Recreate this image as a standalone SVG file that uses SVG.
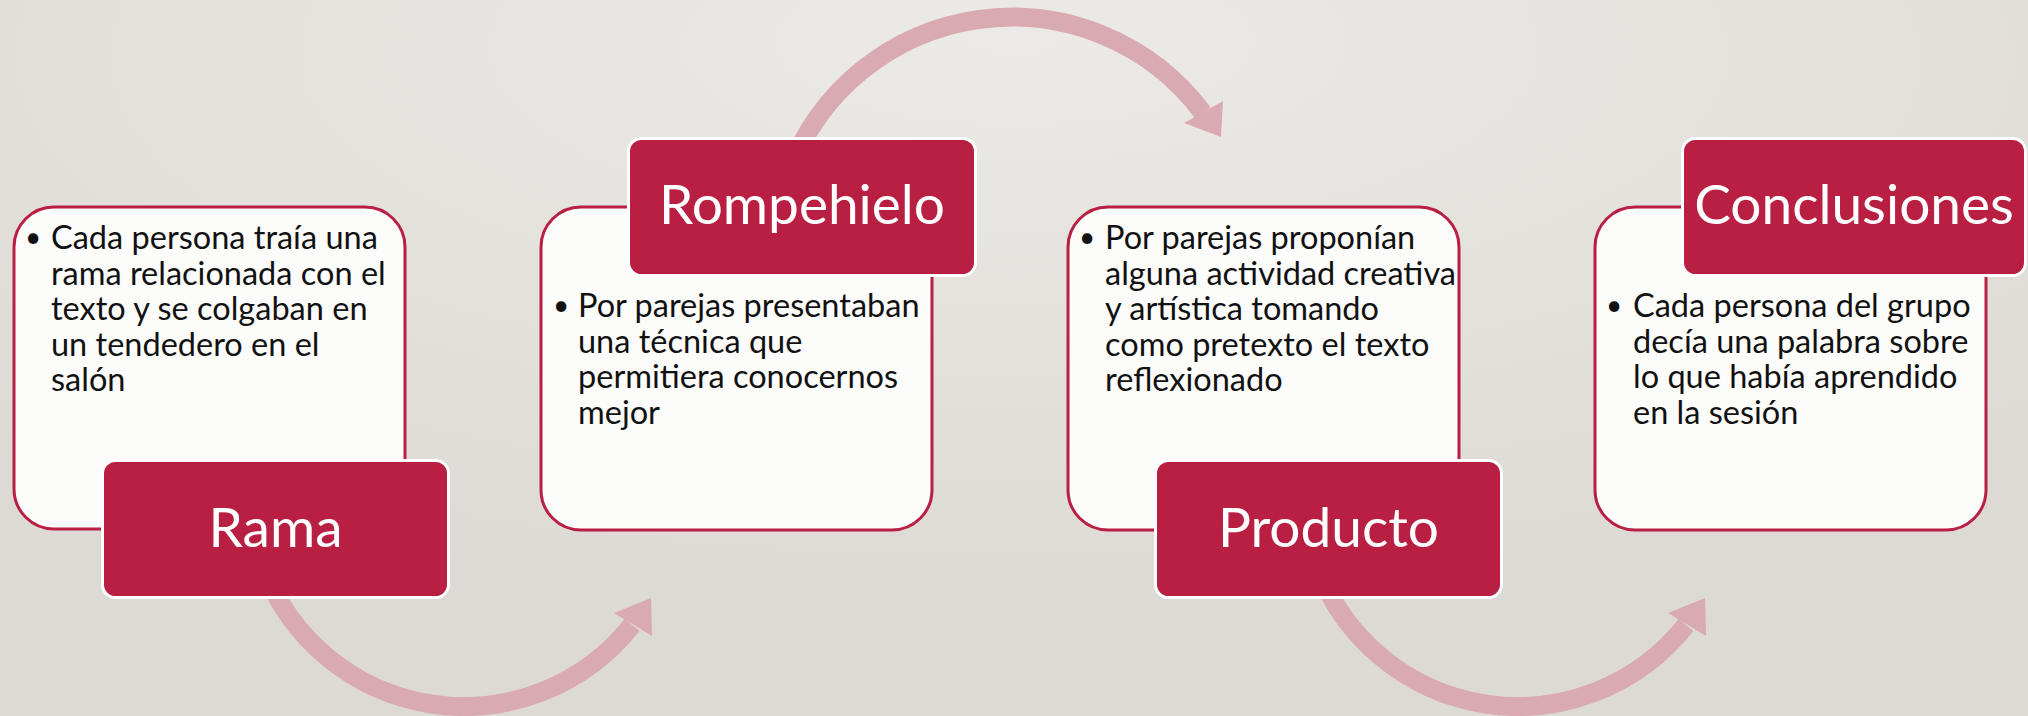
<svg xmlns="http://www.w3.org/2000/svg" width="2028" height="716" viewBox="0 0 2028 716">
  <defs>
    <radialGradient id="bg" cx="0.5" cy="0.1" r="0.75" fx="0.5" fy="0.05">
      <stop offset="0" stop-color="#eceae6"/>
      <stop offset="1" stop-color="#dddad5"/>
    </radialGradient>
    <style>
      .card { fill: #fcfcfb; stroke: #b91e43; stroke-width: 3; }
      .tag { fill: #b91e43; stroke: #ffffff; stroke-width: 3; }
      .tagtxt { font-family: Lato, "Liberation Sans", sans-serif; font-size: 55px; fill: #ffffff; text-anchor: middle; }
      .body { font-family: Lato, "Liberation Sans", sans-serif; font-size: 32.5px; fill: #111111; }
      .bul { font-family: Lato, "Liberation Sans", sans-serif; font-size: 28px; fill: #111111; }
      .arc { fill: none; stroke: #d9aab1; stroke-width: 19; }
      .head { fill: #d9aab1; }
    </style>
  </defs>
  <rect x="0" y="0" width="2028" height="716" fill="url(#bg)"/>

  <g id="connectors">
    <g id="arrow-rama-rompehielo">
      <path class="arc" d="M 262.9 565.7 A 214 214 0 0 0 632 625"/>
      <polygon class="head" points="651,598 614,613 652,636"/>
    </g>
    <g id="arrow-rompehielo-producto">
      <path class="arc" d="M 788.4 173.6 A 238 238 0 0 1 1203 113"/>
      <polygon class="head" points="1221,137 1184,123 1223,101"/>
    </g>
    <g id="arrow-producto-conclusiones">
      <path class="arc" d="M 1316.9 565.7 A 214 214 0 0 0 1686 625"/>
      <polygon class="head" points="1705,598 1668,613 1706,636"/>
    </g>
  </g>

  <g id="node-rama">
    <rect class="card" x="14" y="207" width="391" height="322" rx="40"/>
    <text class="bul" x="25" y="247">•</text>
    <text class="body" x="51" y="249">Cada persona traía una</text>
    <text class="body" x="51" y="284.6">rama relacionada con el</text>
    <text class="body" x="51" y="320.2">texto y se colgaban en</text>
    <text class="body" x="51" y="355.8">un tendedero en el</text>
    <text class="body" x="51" y="391.4">salón</text>
    <rect class="tag" x="102.5" y="460.5" width="346" height="137" rx="13"/>
    <text class="tagtxt" x="275.5" y="547">Rama</text>
  </g>

  <g id="node-rompehielo">
    <rect class="card" x="541" y="207" width="391" height="323" rx="40"/>
    <text class="bul" x="553" y="315">•</text>
    <text class="body" x="578" y="317">Por parejas presentaban</text>
    <text class="body" x="578" y="352.6">una técnica que</text>
    <text class="body" x="578" y="388.2">permitiera conocernos</text>
    <text class="body" x="578" y="423.8">mejor</text>
    <rect class="tag" x="628.5" y="138.5" width="347" height="137" rx="13"/>
    <text class="tagtxt" x="802" y="224">Rompehielo</text>
  </g>

  <g id="node-producto">
    <rect class="card" x="1068" y="207" width="391" height="323" rx="40"/>
    <text class="bul" x="1079" y="247">•</text>
    <text class="body" x="1105" y="249">Por parejas proponían</text>
    <text class="body" x="1105" y="284.6">alguna actividad creativa</text>
    <text class="body" x="1105" y="320.2">y artística tomando</text>
    <text class="body" x="1105" y="355.8">como pretexto el texto</text>
    <text class="body" x="1105" y="391.4">reflexionado</text>
    <rect class="tag" x="1155.5" y="460.5" width="346" height="137" rx="13"/>
    <text class="tagtxt" x="1328.5" y="547">Producto</text>
  </g>

  <g id="node-conclusiones">
    <rect class="card" x="1595" y="207" width="391" height="323" rx="40"/>
    <text class="bul" x="1606" y="315">•</text>
    <text class="body" x="1633" y="317">Cada persona del grupo</text>
    <text class="body" x="1633" y="352.6">decía una palabra sobre</text>
    <text class="body" x="1633" y="388.2">lo que había aprendido</text>
    <text class="body" x="1633" y="423.8">en la sesión</text>
    <rect class="tag" x="1682.5" y="138.5" width="343" height="137" rx="13"/>
    <text class="tagtxt" x="1854" y="224">Conclusiones</text>
  </g>
</svg>
